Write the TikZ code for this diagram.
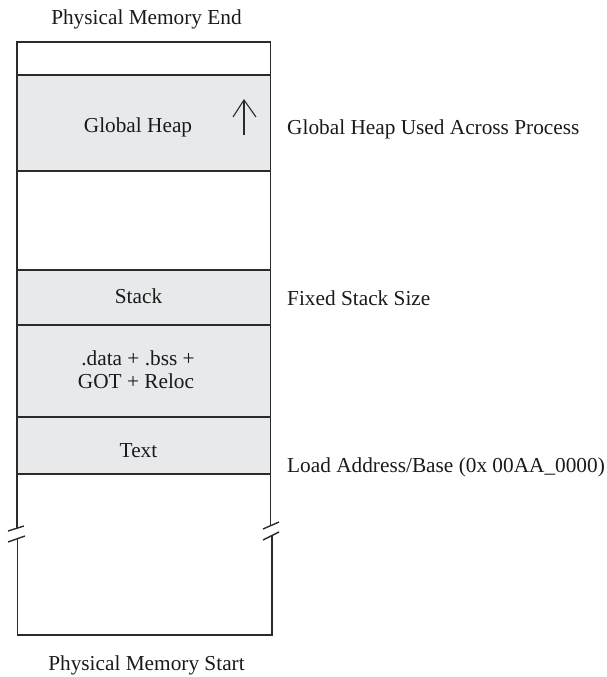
\documentclass[tikz,border=0pt]{standalone}
\usepackage{fontspec}
\setmainfont{Liberation Serif}
\definecolor{boxfill}{HTML}{E8E9EB}
\definecolor{linec}{HTML}{2B2B2B}
\definecolor{txt}{HTML}{1A1A1A}
\begin{document}
\begin{tikzpicture}[x=1bp,y=-1bp,
  seg/.style={fill=boxfill,draw=linec,line width=1.4bp},
  edge/.style={draw=linec,line width=1.4bp},
  lbl/.style={inner sep=0pt,text=txt,font=\fontsize{21.3bp}{25bp}\selectfont,anchor=base},
  rlbl/.style={lbl,anchor=base west}]
\useasboundingbox (0,0) rectangle (607,677);
% segments
\path[seg] (16.8,75) rectangle (270.5,171);
\path[seg] (16.8,270) rectangle (270.5,325);
\path[seg] (16.8,325) rectangle (270.5,417);
\path[seg] (16.8,417) rectangle (270.5,474);
\draw[linec,line width=2.5bp] (16.8,417) -- (270.5,417);
\node[inner sep=0pt] (heap) at (143.5,123) {};
\node[inner sep=0pt] (stack) at (143.5,297.5) {};
\node[inner sep=0pt] (data) at (143.5,371) {};
\node[inner sep=0pt] (text) at (143.5,445.5) {};
% outer frame
\draw[edge] (16.8,528.5) -- (16.8,42) -- (270.5,42) -- (270.5,525.5);
\draw[edge] (17.2,539) -- (17.2,635) -- (271.8,635) -- (271.8,536);
% break marks
\draw[edge] (8,531) -- (24,526);
\draw[edge] (8,542) -- (25,536);
\draw[edge] (263,529) -- (279,522);
\draw[edge] (263,540) -- (279,532);
% heap arrow
\coordinate (atail) at (244,135);
\coordinate (ahead) at (244,100);
\draw[edge,line width=1.1bp] (atail) -- (ahead);
\draw[edge,line width=1.1bp] (233,117) -- (ahead) -- (256,117);
% texts in boxes
\node[lbl] (theap) at (138,133) {Global Heap};
\node[lbl] (tstack) at (138.5,303) {Stack};
\node[lbl] (tdata1) at (138,365) {.data + .bss +};
\node[lbl] (tdata2) at (136,388) {GOT + Reloc};
\node[lbl] (ttext) at (138.5,457) {Text};
% titles
\node[lbl] (tend) at (146.5,25) {Physical Memory End};
\node[lbl] (tstart) at (146.5,670) {Physical Memory Start};
% right labels
\node[rlbl] (lheap) at (287,135) {Global Heap Used Across Process};
\node[rlbl] (lstack) at (287,305) {Fixed Stack Size};
\node[rlbl] (lload) at (287,472) {Load Address/Base (0x 00AA\_0000)};
\end{tikzpicture}
\end{document}
